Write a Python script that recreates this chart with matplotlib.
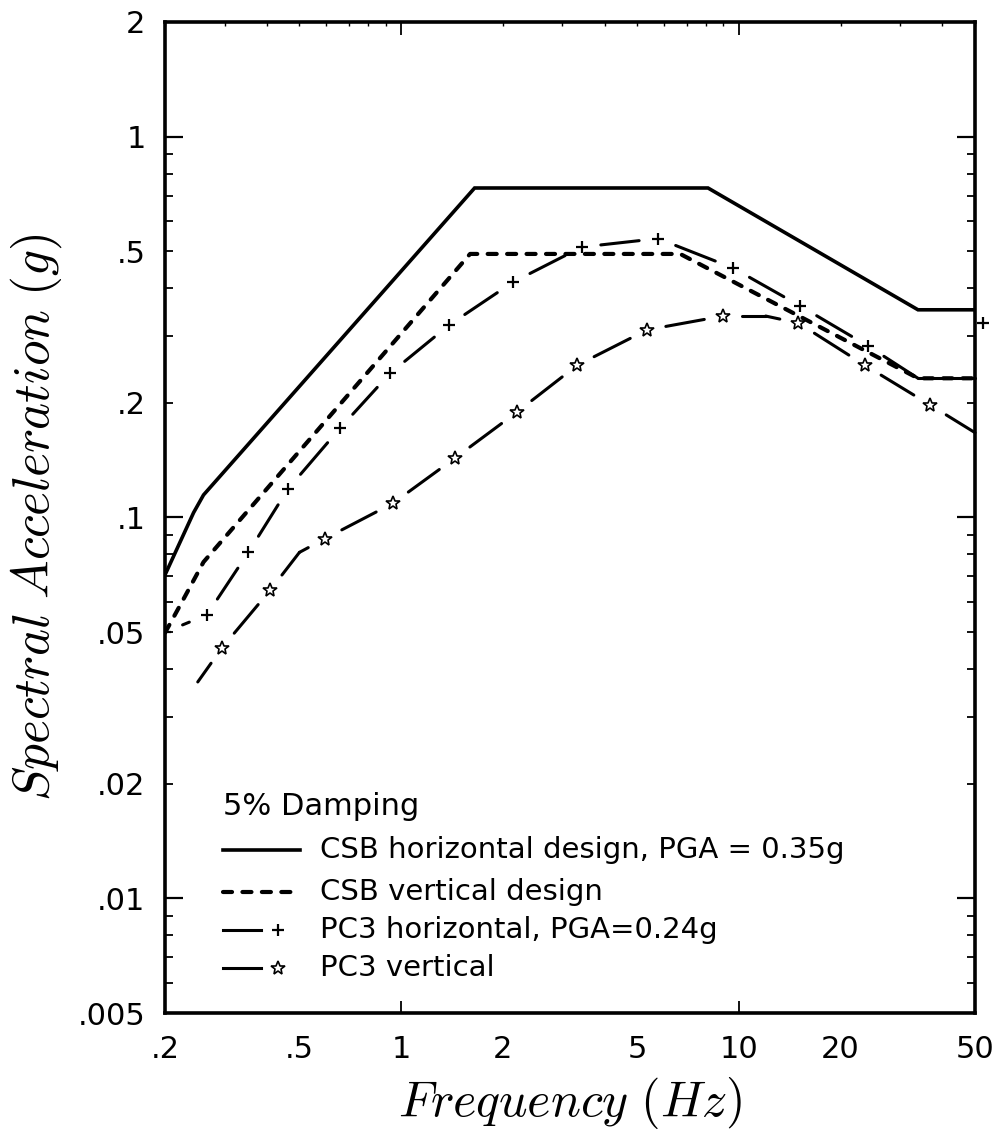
import numpy as np
import matplotlib
matplotlib.use("Agg")
import matplotlib.pyplot as plt
from matplotlib.ticker import LogLocator, FuncFormatter

plt.rcParams['mathtext.fontset'] = 'cm'
plt.rcParams['lines.scale_dashes'] = False

# CSB horizontal design spectrum (solid)
csb_h_freq = [0.2, 0.243, 0.26, 1.65, 8.1, 33.9, 50]
csb_h_acc = [0.0707, 0.103, 0.1146, 0.733, 0.733, 0.351, 0.351]

# CSB vertical design spectrum (short dash)
csb_v_freq = [0.2, 0.226, 0.26, 1.6, 6.7, 33.9, 50]
csb_v_acc = [0.0498, 0.0607, 0.0764, 0.492, 0.492, 0.232, 0.232]

# PC3 horizontal, PGA=0.24g (+ markers)
pc3_h_freq = [0.2, 0.266, 0.353, 0.463, 0.659, 0.927, 1.386, 2.144, 3.43,
              5.76, 9.6, 15.2, 24.1, 33.9, 50]
pc3_h_acc = [0.05, 0.0555, 0.081, 0.119, 0.1715, 0.239, 0.32, 0.415, 0.513,
             0.54, 0.452, 0.359, 0.282, 0.232, 0.232]
pc3_h_mark = [1, 1, 1, 1, 1, 1, 1, 1, 1, 1, 1, 1, 1, 0, 0]
pc3_h_extra_freq = [52.8]
pc3_h_extra_acc = [0.324]

# PC3 vertical (star markers)
pc3_v_freq = [0.25, 0.295, 0.41, 0.50, 0.595, 0.946, 1.44, 2.20, 3.32, 5.35,
              8.97, 12.0, 15.0, 23.6, 36.8, 50]
pc3_v_acc = [0.037, 0.0455, 0.0645, 0.081, 0.088, 0.109, 0.143, 0.189, 0.251,
             0.311, 0.338, 0.338, 0.324, 0.251, 0.1975, 0.167]
pc3_v_mark = [0, 1, 1, 0, 1, 1, 1, 1, 1, 1, 1, 0, 1, 1, 1, 0]

x_tick_vals = [0.2, 0.5, 1, 2, 5, 10, 20, 50]
x_tick_labels = ['.2', '.5', '1', '2', '5', '10', '20', '50']
y_tick_vals = [2, 1, 0.5, 0.2, 0.1, 0.05, 0.02, 0.01, 0.005]
y_tick_labels = ['2', '1', '.5', '.2', '.1', '.05', '.02', '.01', '.005']

legend_labels = ['CSB horizontal design, PGA = 0.35g', 'CSB vertical design',
                 'PC3 horizontal, PGA=0.24g', 'PC3 vertical']

fig = plt.figure(figsize=(9.99, 11.32), dpi=100)
ax = fig.add_axes([0.1652, 0.1051, 0.8108, 0.8755])
ax.set_xscale('log')
ax.set_yscale('log')
ax.set_xlim(0.2, 50)
ax.set_ylim(0.005, 2)

GAP_PX = 19   # blank line left around each marker
LW_PC3 = 2.2


def gapped_line(f, a, mark):
    # line broken around each marker, like the old pen plotter output
    pts = ax.transData.transform(np.column_stack([f, a]))
    inv = ax.transData.inverted()
    for i in range(len(pts) - 1):
        p0, p1 = pts[i], pts[i + 1]
        d = p1 - p0
        L = np.hypot(*d)
        s0 = GAP_PX if mark[i] else 0
        s1 = GAP_PX if mark[i + 1] else 0
        if L <= s0 + s1:
            continue
        q = inv.transform([p0 + d / L * s0, p1 - d / L * s1])
        ax.plot(q[:, 0], q[:, 1], color='k', lw=LW_PC3,
                solid_capstyle='round', clip_on=False)


ax.plot(csb_h_freq, csb_h_acc, color='k', lw=2.6, solid_joinstyle='miter')
ax.plot(csb_v_freq, csb_v_acc, color='k', lw=3.0, dashes=(6.5, 7.5),
        dash_capstyle='round')

gapped_line(pc3_h_freq, pc3_h_acc, pc3_h_mark)
gapped_line(pc3_v_freq, pc3_v_acc, pc3_v_mark)

hf = [f for f, m in zip(pc3_h_freq, pc3_h_mark) if m]
ha = [a for a, m in zip(pc3_h_acc, pc3_h_mark) if m]
ax.plot(hf, ha, ls='none', marker='+', ms=9, mew=1.6, color='k')
ax.plot(pc3_h_extra_freq, pc3_h_extra_acc, ls='none', marker='+', ms=9,
        mew=1.6, color='k', clip_on=False)
vf = [f for f, m in zip(pc3_v_freq, pc3_v_mark) if m]
va = [a for a, m in zip(pc3_v_acc, pc3_v_mark) if m]
ax.plot(vf, va, ls='none', marker='*', ms=10, mew=1.2, mfc='white', mec='k')

# ticks
xlab = dict(zip(x_tick_vals, x_tick_labels))
ylab = dict(zip(y_tick_vals, y_tick_labels))


def fmt(mapping):
    def f(v, pos):
        for k, s in mapping.items():
            if np.isclose(v, k, rtol=1e-6):
                return s
        return ''
    return FuncFormatter(f)


for axis, mapping in ((ax.xaxis, xlab), (ax.yaxis, ylab)):
    axis.set_major_locator(LogLocator(base=10, numticks=20))
    axis.set_minor_locator(LogLocator(base=10, subs=np.arange(2, 10), numticks=20))
    axis.set_major_formatter(fmt(mapping))
    axis.set_minor_formatter(fmt(mapping))

ax.tick_params(which='both', direction='in', top=True, right=True,
               labelsize=22, colors='k')
ax.tick_params(axis='y', which='major', length=13, width=1.6, pad=14)
ax.tick_params(axis='y', which='minor', length=6, width=1.3, pad=14)
ax.tick_params(axis='x', which='major', length=9, width=1.3, pad=16)
ax.tick_params(axis='x', which='minor', length=3, width=1.0, pad=16,
               bottom=False)
for lab in ax.get_xticklabels(which='both') + ax.get_yticklabels(which='both'):
    lab.set_fontfamily('DejaVu Sans')

for sp in ax.spines.values():
    sp.set_linewidth(2.6)

ax.set_xlabel(r'$Frequency\ (Hz)$', fontsize=36, labelpad=8)
ax.set_ylabel(r'$Spectral\ Acceleration\ (g)$', fontsize=37, labelpad=10)

# legend, drawn by hand in axes fraction
tr = ax.transAxes
ax.text(0.0716, 0.2079, '5% Damping', transform=tr, fontsize=22,
        va='center', ha='left', family='DejaVu Sans')
rows = [0.1645, 0.1221, 0.0838, 0.0454]
ax.plot([0.0716, 0.1667], [rows[0]] * 2, transform=tr, color='k', lw=2.6)
ax.plot([0.0716, 0.1667], [rows[1]] * 2, transform=tr, color='k', lw=3.0,
        dashes=(6.5, 7.5), dash_capstyle='round')
ax.plot([0.0716, 0.118], [rows[2]] * 2, transform=tr, color='k', lw=LW_PC3)
ax.plot([0.1395], [rows[2]], transform=tr, ls='none', marker='+', ms=9,
        mew=1.6, color='k')
ax.plot([0.0716, 0.118], [rows[3]] * 2, transform=tr, color='k', lw=LW_PC3)
ax.plot([0.1395], [rows[3]], transform=tr, ls='none', marker='*', ms=10,
        mew=1.2, mfc='white', mec='k')
for y, s in zip(rows, legend_labels):
    ax.text(0.1914, y, s, transform=tr, fontsize=21, va='center', ha='left',
            family='DejaVu Sans')

fig.savefig('out.png', dpi=100)
